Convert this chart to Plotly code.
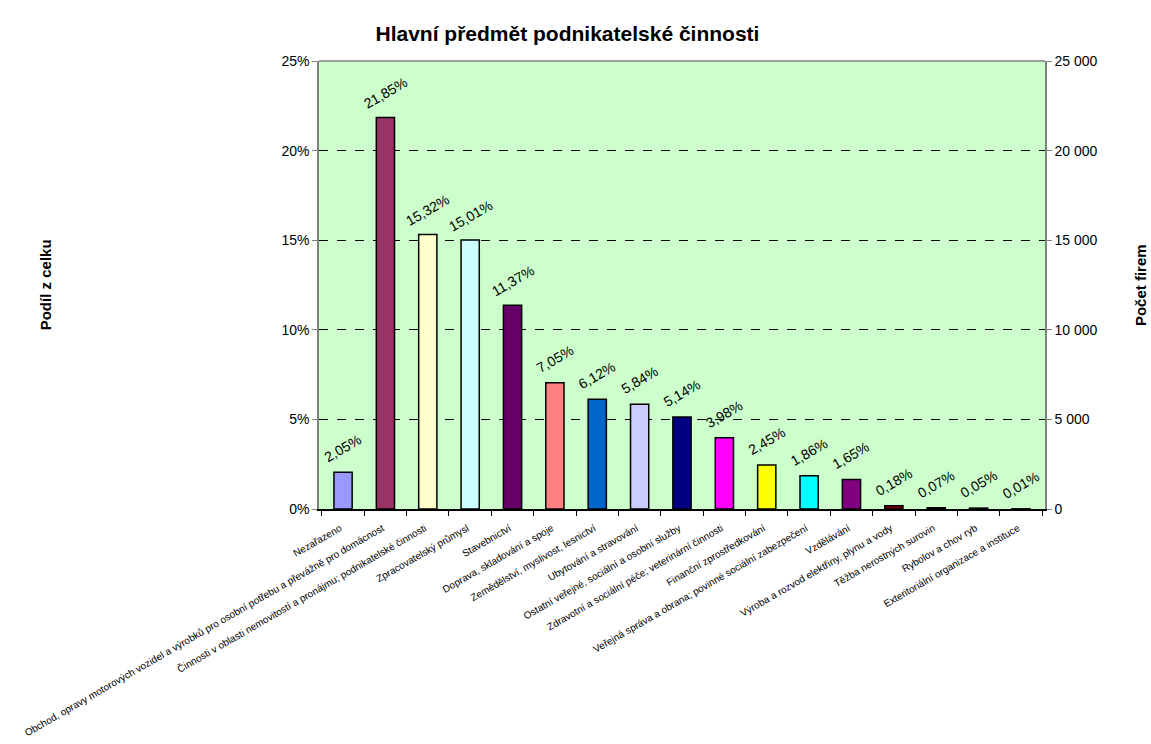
import plotly.graph_objects as go

# Hlavní předmět podnikatelské činnosti – podíl firem podle odvětví
categories = [
    "Nezařazeno",
    "Obchod, opravy motorových vozidel a výrobků pro osobní potřebu a převážně pro domácnost",
    "Činnosti v oblasti nemovitostí a pronájmu; podnikatelské činnosti",
    "Zpracovatelský průmysl",
    "Stavebnictví",
    "Doprava, skladování a spoje",
    "Zemědělství, myslivost, lesnictví",
    "Ubytování a stravování",
    "Ostatní veřejné, sociální a osobní služby",
    "Zdravotní a sociální péče; veterinární činnosti",
    "Finanční zprostředkování",
    "Veřejná správa a obrana; povinné sociální zabezpečení",
    "Vzdělávání",
    "Výroba a rozvod elektřiny, plynu a vody",
    "Těžba nerostných surovin",
    "Rybolov a chov ryb",
    "Exteritoriální organizace a instituce",
]
share_pct = [2.05, 21.85, 15.32, 15.01, 11.37, 7.05, 6.12, 5.84, 5.14,
             3.98, 2.45, 1.86, 1.65, 0.18, 0.07, 0.05, 0.01]
bar_colors = ["#9999FF", "#993366", "#FFFFCC", "#CCFFFF", "#660066", "#FF8080",
              "#0066CC", "#CCCCFF", "#000080", "#FF00FF", "#FFFF00", "#00FFFF",
              "#800080", "#800000", "#008080", "#0000FF", "#993366"]

pct_ticks = [0, 5, 10, 15, 20, 25]
pct_tick_text = ["0%", "5%", "10%", "15%", "20%", "25%"]
count_ticks = [0, 5000, 10000, 15000, 20000, 25000]

FONT = "Liberation Sans, Arial, sans-serif"

fig = go.Figure()
fig.add_trace(go.Bar(
    x=categories, y=share_pct,
    marker=dict(color=bar_colors, line=dict(color="black", width=1.5)),
    showlegend=False, hoverinfo="x+y",
))
# secondary axis (number of firms) shares the same vertical scale
fig.add_trace(go.Scatter(
    x=categories, y=[None] * len(categories), yaxis="y2",
    mode="lines", showlegend=False, hoverinfo="skip",
))

for cat, v in zip(categories, share_pct):
    fig.add_annotation(
        x=cat, y=v, xref="x", yref="y",
        text=f"{v:.2f}".replace(".", ",") + "%",
        showarrow=False, textangle=-30, yshift=24,
        font=dict(family=FONT, size=14, color="black"),
    )

fig.add_annotation(
    text="<b>Podíl z celku</b>", xref="paper", yref="paper",
    x=-0.377, y=0.5, xanchor="center", yanchor="middle", textangle=-90,
    showarrow=False, font=dict(family=FONT, size=15, color="black"),
)
fig.add_annotation(
    text="<b>Počet firem</b>", xref="paper", yref="paper",
    x=1.131, y=0.5, xanchor="center", yanchor="middle", textangle=-90,
    showarrow=False, font=dict(family=FONT, size=15, color="black"),
)

# plot-area top border
fig.add_shape(type="line", xref="paper", yref="paper", x0=0, x1=1, y0=1, y1=1,
              line=dict(color="#808080", width=1.5), layer="above")

fig.update_layout(
    width=1151, height=744,
    margin=dict(l=319, r=106, t=61, b=235),
    paper_bgcolor="white", plot_bgcolor="#CCFFCC",
    separators=", ",
    bargap=0.57,
    title=dict(text="<b>Hlavní předmět podnikatelské činnosti</b>",
               x=0.493, xref="container", xanchor="center",
               y=1 - 34 / 744, yref="container", yanchor="middle",
               font=dict(family=FONT, size=21, color="black")),
    font=dict(family=FONT, color="black"),
    xaxis=dict(
        type="category", tickangle=-30, tickson="boundaries",
        ticks="outside", ticklen=5, tickcolor="black",
        ticklabelstandoff=8, ticklabelshift=-3,
        showline=True, linecolor="black", linewidth=1.5,
        showgrid=False, automargin=False,
        tickfont=dict(family=FONT, size=10, color="black"),
    ),
    yaxis=dict(
        range=[0, 25], tickvals=pct_ticks, ticktext=pct_tick_text,
        ticks="outside", ticklen=5, tickcolor="#808080",
        showline=True, linecolor="#808080", linewidth=1.5,
        showgrid=True, gridcolor="black", gridwidth=1, griddash="dash",
        zeroline=False, automargin=False,
        tickfont=dict(family=FONT, size=14, color="black"),
    ),
    yaxis2=dict(
        range=[0, 25000], tickvals=count_ticks, tickformat=",d",
        overlaying="y", side="right",
        ticks="outside", ticklen=5, tickcolor="#808080",
        showline=True, linecolor="#808080", linewidth=1.5,
        showgrid=False, zeroline=False, automargin=False,
        tickfont=dict(family=FONT, size=14, color="black"),
    ),
)

fig.write_html("out.html")
